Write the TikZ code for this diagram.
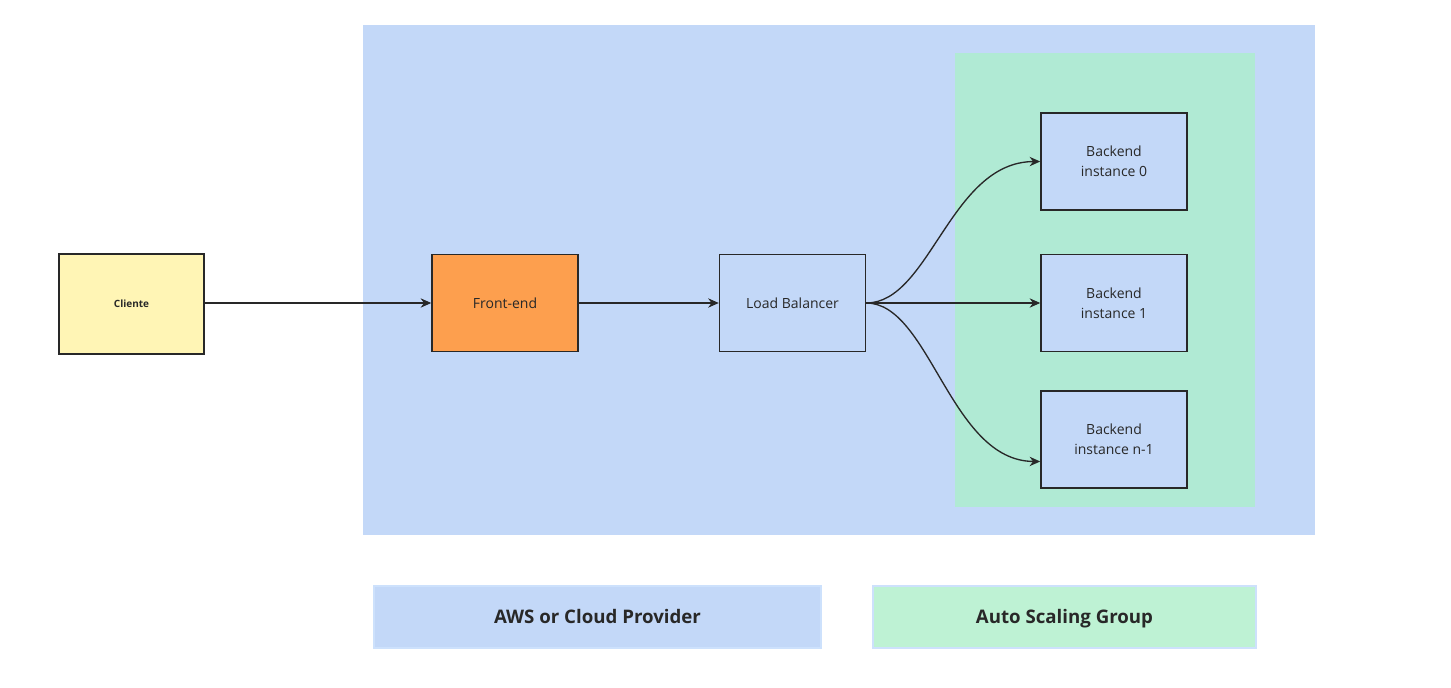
\documentclass[tikz,border=0pt]{standalone}
\usepackage{fontspec}
\setmainfont{Open Sans}
\usetikzlibrary{arrows.meta}
\definecolor{cloudblue}{RGB}{195,216,248}
\definecolor{asggreen}{RGB}{176,234,212}
\definecolor{legendgreen}{RGB}{190,242,212}
\definecolor{legendborder}{RGB}{205,225,252}
\definecolor{clientyellow}{RGB}{255,245,181}
\definecolor{frontorange}{RGB}{253,159,78}
\definecolor{inkc}{RGB}{40,40,40}
\tikzset{
  box/.style={draw=inkc, line width=1.1pt, minimum width=146*0.75pt, minimum height=97*0.75pt, inner sep=0pt, align=center, font=\fontsize{10.5}{15}\selectfont, text=inkc},
  conn/.style={draw=inkc, line width=1pt, -{Stealth[length=8pt,width=7pt]}},
  legend/.style={draw=legendborder, line width=1pt, inner sep=0pt, text height=10.5pt, text depth=1.5pt, font=\bfseries\fontsize{14}{16}\selectfont, text=inkc}
}
\begin{document}
\begin{tikzpicture}[x=0.75pt,y=-0.75pt]
\useasboundingbox (0,0) rectangle (1451,688);
\fill[white] (0,0) rectangle (1451,688);
\fill[cloudblue] (363,25) rectangle (1315,535);
\fill[asggreen] (955,53) rectangle (1255,507);
\node[box, fill=clientyellow, minimum width=145*0.75pt, minimum height=100*0.75pt, font=\bfseries\fontsize{7.5}{9}\selectfont] (cli) at (131.5,304) {Cliente};
\node[box, fill=frontorange] (fe) at (505,303) {Front-end};
\node[box, fill=cloudblue] (lb) at (792.5,303) {Load Balancer};
\node[box, fill=cloudblue] (b0) at (1114,161.5) {Backend\\instance 0};
\node[box, fill=cloudblue] (b1) at (1114,303) {Backend\\instance 1};
\node[box, fill=cloudblue] (bn) at (1114,439.5) {Backend\\instance n-1};
\draw[conn] (cli.east |- fe.west) -- (fe);
\draw[conn] (fe) -- (lb);
\draw[conn] (lb) -- (b1);
\draw[conn] (lb.east) .. controls (930,303) and (950,162) .. (b0.west);
\draw[conn] (lb.east) .. controls (930,303) and (950,461) .. ([yshift=-22*0.75pt]bn.west);
\node[legend, fill=cloudblue, minimum width=447*0.75pt, minimum height=62*0.75pt] (leg1) at (597.5,617) {AWS or Cloud Provider};
\node[legend, fill=legendgreen, minimum width=383*0.75pt, minimum height=62*0.75pt] (leg2) at (1064.5,617) {Auto Scaling Group};
\end{tikzpicture}
\end{document}
